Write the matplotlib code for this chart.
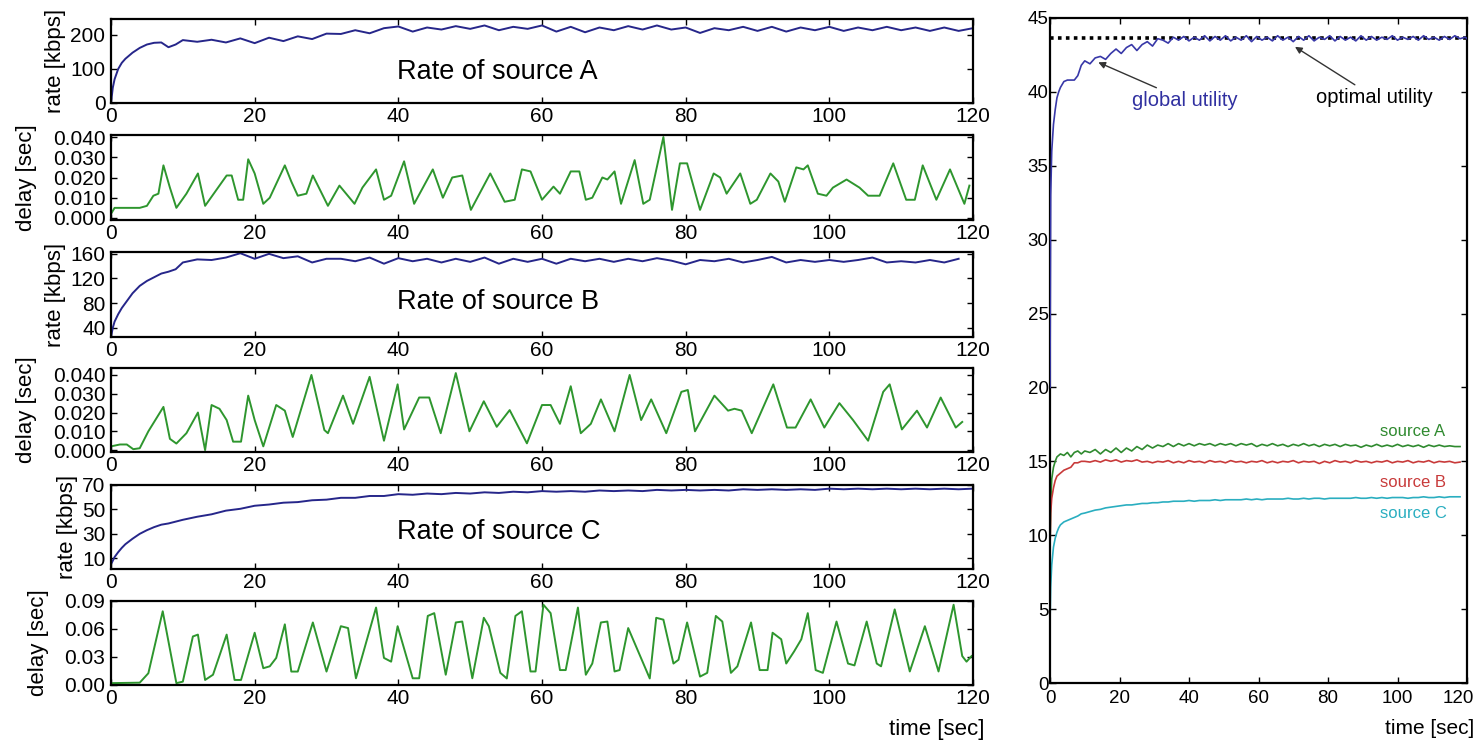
import matplotlib
matplotlib.use("Agg")
import matplotlib.pyplot as plt
import matplotlib.transforms as mtransforms
import numpy as np

plt.rcParams['font.family'] = ['Liberation Sans', 'DejaVu Sans']
NARROW = ['Liberation Sans Narrow', 'Liberation Sans', 'DejaVu Sans']

# ---------------- left column: rates (kbps) ----------------
t_rate_early = [0, 0.25, 0.5, 1, 1.5, 2, 3, 4, 5, 6, 7, 8, 9, 10]
t_rate_step = list(range(12, 121, 2))

rate_a = [0, 45, 70, 100, 118, 130, 148, 162, 172, 177, 178, 164, 172, 185,
          180, 186, 178, 190, 176, 192, 182, 196, 188, 204, 203,
          214, 205, 220, 225, 210, 222, 216, 226, 218, 228, 214,
          224, 218, 228, 210, 224, 208, 222, 214, 226, 216, 228,
          216, 222, 206, 220, 214, 224, 212, 224, 210, 222, 214,
          224, 212, 222, 214, 224, 214, 222, 212, 222, 212, 220]

rate_b = [25, 40, 50, 62, 72, 80, 96, 108, 116, 122, 128, 131, 135, 146,
          151, 150, 154, 161, 152, 160, 153, 156, 146, 152, 152,
          148, 154, 144, 153, 148, 152, 146, 152, 147, 154, 144,
          152, 147, 152, 144, 152, 148, 152, 147, 152, 148, 153,
          149, 143, 150, 148, 152, 146, 150, 155, 146, 150, 147,
          150, 147, 150, 154, 146, 148, 146, 150, 146, 152]

rate_c = [5, 8, 11, 15, 18.5, 21.5, 26, 30, 33, 35.5, 37.5, 38.5, 40, 41.5,
          44, 46, 49, 50.5, 53, 54, 55.5, 56, 57.5, 58, 59.5,
          59.5, 61, 61, 62.5, 62, 63, 62.5, 63.5, 63, 64, 63.5,
          64.5, 64, 65, 64.5, 65, 64.5, 65.5, 65, 65.5, 65, 66,
          65.5, 66, 65.5, 66, 65.5, 66.5, 66, 66.5, 66, 66.5, 66,
          67, 66.5, 67, 66.5, 67, 66.5, 67, 66.5, 67, 66.5, 67]

# ---------------- left column: delays (sec) ----------------
t_delay_a = [0, 0.5, 1, 2, 3, 4, 5, 5.9, 6.6, 7.3, 8.2, 9.1, 10.5, 12.1, 13.1,
             14.5, 16.1, 16.8, 17.7, 18.4, 19.1, 20, 21.2, 22.1, 24.2, 25.1,
             26, 27.2, 28.1, 30.2, 31.8, 33.9, 35, 36.9, 38, 39, 40.8, 42.2,
             44.8, 46.2, 47.5, 48.9, 50.1, 52.8, 54.8, 56.2, 57.2, 58.4, 60,
             61.6, 62.5, 64, 65.2, 66.1, 67, 68.4, 69.1, 70.1, 71, 72.9, 74.1,
             75, 76.9, 78.1, 79.2, 80.2, 82, 83.9, 84.8, 85.7, 87.6, 89, 89.9,
             91.8, 92.9, 93.8, 95.4, 96.4, 97, 98.4, 99.6, 100.5, 102.4, 104.2,
             105.4, 107, 108.9, 110.7, 111.9, 113, 114.9, 116.8, 118.8, 119.5]
delay_a = [0.002, 0.005, 0.005, 0.005, 0.005, 0.005, 0.006, 0.011, 0.012, 0.026,
           0.015, 0.005, 0.012, 0.022, 0.006, 0.013, 0.021, 0.021, 0.009, 0.009,
           0.029, 0.022, 0.007, 0.010, 0.026, 0.018, 0.011, 0.012, 0.021, 0.006,
           0.016, 0.007, 0.015, 0.024, 0.009, 0.011, 0.028, 0.007, 0.024, 0.010,
           0.020, 0.021, 0.004, 0.022, 0.008, 0.009, 0.024, 0.023, 0.009, 0.0155,
           0.012, 0.023, 0.023, 0.009, 0.010, 0.020, 0.019, 0.023, 0.007, 0.0286,
           0.007, 0.009, 0.040, 0.004, 0.027, 0.027, 0.004, 0.022, 0.020, 0.012,
           0.022, 0.007, 0.009, 0.022, 0.018, 0.008, 0.025, 0.024, 0.026, 0.012,
           0.011, 0.015, 0.019, 0.015, 0.011, 0.011, 0.027, 0.009, 0.009, 0.026,
           0.009, 0.024, 0.007, 0.016]

t_delay_b = [0, 1.25, 2.2, 3.1, 4, 5.2, 7.3, 8.2, 9.1, 10.5, 12.1, 13.1, 14, 15.1,
             16.1, 17, 18.1, 19.1, 20, 21.2, 23, 24.2, 25.3, 27.9, 29.7, 30.2,
             32.3, 33.7, 36, 38, 39.9, 40.8, 42.9, 44.3, 45.9, 48, 49.9, 51.9,
             53.7, 55.5, 57.9, 60, 61.2, 62.5, 64, 65.4, 66.8, 68.2, 70.1, 72.2,
             73.8, 75.2, 77.3, 79.4, 80.3, 81.3, 84, 85.9, 86.8, 87.8, 89.2,
             92.2, 94.1, 95.3, 97.4, 99.3, 101.4, 103.3, 105.4, 107.5, 108.4,
             110.1, 112.2, 113.6, 115.5, 117.6, 118.5]
delay_b = [0.002, 0.003, 0.003, 0.0005, 0.001, 0.010, 0.023, 0.006, 0.0035, 0.009,
           0.020, 0.000, 0.024, 0.022, 0.016, 0.0045, 0.0045, 0.029, 0.016, 0.002,
           0.024, 0.021, 0.007, 0.040, 0.0107, 0.009, 0.029, 0.014, 0.039, 0.005,
           0.035, 0.011, 0.028, 0.028, 0.009, 0.041, 0.010, 0.026, 0.0124, 0.0213,
           0.0036, 0.024, 0.024, 0.014, 0.034, 0.009, 0.014, 0.027, 0.010, 0.040,
           0.016, 0.027, 0.009, 0.031, 0.032, 0.010, 0.029, 0.021, 0.022, 0.021,
           0.009, 0.035, 0.012, 0.012, 0.027, 0.012, 0.025, 0.016, 0.005, 0.031,
           0.035, 0.011, 0.021, 0.012, 0.028, 0.012, 0.015]

t_delay_c = [0, 4, 5.2, 7.2, 9.1, 10, 11.4, 12.1, 13.1, 14.2, 16.1, 17.2, 18.1, 20,
             21.2, 22.1, 23, 24.2, 25.1, 26, 28.1, 30, 32, 33, 34.1, 36.9, 38, 39,
             39.9, 42, 42.9, 44.1, 45, 46.6, 48, 48.9, 50.3, 51.9, 52.6, 54.2,
             55.1, 56.3, 57.2, 58.4, 59.1, 60.2, 61.2, 62.5, 63.3, 65, 66.1, 67,
             68.2, 69.1, 70.1, 70.8, 72, 75, 75.9, 76.9, 78.3, 79, 80.2, 82, 83,
             84.2, 85.1, 86.3, 87.2, 89.1, 90.3, 91.4, 92.1, 93.3, 94, 95.1, 96.1,
             97, 98.1, 99.1, 101, 102.6, 103.5, 105.2, 106.6, 107.2, 109.1, 111.2,
             113.3, 115.2, 117.3, 118.5, 119.1, 119.8]
delay_c = [0.002, 0.0025, 0.0126, 0.079, 0.002, 0.0036, 0.052, 0.054, 0.0054, 0.011,
           0.054, 0.0054, 0.0054, 0.056, 0.018, 0.020, 0.029, 0.065, 0.0144, 0.0144,
           0.067, 0.0144, 0.063, 0.061, 0.0072, 0.083, 0.029, 0.025, 0.063, 0.0072,
           0.0072, 0.074, 0.077, 0.011, 0.067, 0.068, 0.0072, 0.072, 0.063, 0.013,
           0.007, 0.074, 0.079, 0.0145, 0.0145, 0.086, 0.077, 0.016, 0.016, 0.083,
           0.011, 0.023, 0.067, 0.068, 0.0145, 0.016, 0.061, 0.007, 0.072, 0.070,
           0.023, 0.027, 0.067, 0.009, 0.013, 0.074, 0.068, 0.013, 0.020, 0.067,
           0.016, 0.016, 0.056, 0.049, 0.023, 0.036, 0.049, 0.077, 0.016, 0.013,
           0.068, 0.023, 0.021, 0.068, 0.023, 0.020, 0.081, 0.0145, 0.063, 0.0145,
           0.086, 0.031, 0.025, 0.031]

# ---------------- right panel: utilities ----------------
t_util_early = [0, 0.2, 0.5, 1, 1.5, 2, 2.5, 3, 4, 5, 6, 7, 8, 9, 10]
t_util_tail = [119.5, 120]

global_utility = [20, 33, 36, 37.8, 38.8, 39.6, 40.0, 40.3, 40.7, 40.8, 40.8, 40.8, 41.1, 41.8, 42.1,
                  41.9, 42.3, 42.4, 42.2, 42.6, 42.9, 42.6, 43.0, 43.2, 42.8, 43.2, 43.4,
                  43.1, 43.6, 43.5, 43.3, 43.7, 43.5, 43.75, 43.45, 43.7, 43.5, 43.8, 43.45,
                  43.75, 43.5, 43.8, 43.45, 43.7, 43.5, 43.8, 43.4, 43.75, 43.5, 43.7, 43.45,
                  43.8, 43.5, 43.7, 43.4, 43.75, 43.5, 43.8, 43.45, 43.7, 43.55, 43.8, 43.45,
                  43.75, 43.5, 43.7, 43.45, 43.8, 43.5, 43.75, 43.5, 43.7, 43.55, 43.8, 43.5,
                  43.7, 43.55, 43.75, 43.5, 43.8, 43.55, 43.7, 43.5, 43.75, 43.55, 43.8, 43.6,
                  43.7, 43.6]
optimal_utility = 43.65

utility_a = [9, 12, 13.8, 14.6, 15.0, 15.3, 15.4, 15.5, 15.4, 15.6, 15.3, 15.6, 15.7, 15.5, 15.7,
             15.6, 15.8, 15.5, 15.8, 15.6, 15.9, 15.6, 15.9, 15.7, 16.0, 15.8, 16.1,
             15.9, 16.1, 16.0, 16.2, 16.0, 16.2, 16.05, 16.2, 16.05, 16.2, 16.1, 16.2,
             16.05, 16.2, 16.1, 16.2, 16.05, 16.2, 16.1, 16.2, 16.0, 16.15, 16.05, 16.2,
             16.05, 16.15, 16.0, 16.15, 16.05, 16.2, 16.05, 16.15, 16.0, 16.15, 16.05, 16.15,
             16.0, 16.15, 16.05, 16.1, 15.95, 16.1, 16.0, 16.15, 16.0, 16.1, 16.0, 16.15,
             16.0, 16.1, 16.0, 16.1, 15.95, 16.1, 16.0, 16.1, 16.0, 16.05, 16.0, 16.0]
utility_b = [9, 11.5, 12.5, 13.2, 13.7, 14.0, 14.1, 14.2, 14.4, 14.5, 14.6, 14.9, 14.9, 15.0, 15.0,
             14.95, 15.05, 14.95, 15.1, 15.0, 15.1, 14.95, 15.05, 15.0, 15.1, 14.95, 15.0,
             14.9, 15.0, 14.95, 15.05, 14.9, 15.0, 14.9, 15.05, 14.95, 15.0, 14.9, 15.05,
             14.95, 15.0, 14.9, 15.05, 14.95, 15.0, 14.9, 15.0, 14.95, 15.05, 14.9, 15.0,
             14.9, 15.0, 14.95, 15.05, 14.9, 15.0, 14.95, 15.0, 14.85, 15.0, 14.9, 15.05,
             14.95, 15.0, 14.9, 15.05, 14.95, 15.0, 14.9, 15.0, 14.95, 15.05, 14.9, 15.0,
             14.95, 15.05, 14.9, 15.0, 14.95, 15.05, 14.9, 15.0, 14.95, 15.0, 14.9, 14.95]
utility_c = [4, 6.5, 8, 9.2, 9.8, 10.2, 10.5, 10.7, 10.9, 11.0, 11.1, 11.2, 11.3, 11.45, 11.5,
             11.6, 11.7, 11.75, 11.85, 11.9, 11.95, 12.0, 12.05, 12.05, 12.1, 12.15, 12.15,
             12.2, 12.2, 12.25, 12.25, 12.3, 12.3, 12.3, 12.35, 12.3, 12.35, 12.35, 12.35,
             12.4, 12.35, 12.4, 12.4, 12.4, 12.4, 12.45, 12.4, 12.45, 12.4, 12.45, 12.45,
             12.45, 12.45, 12.5, 12.45, 12.45, 12.5, 12.45, 12.5, 12.5, 12.45, 12.5, 12.5,
             12.5, 12.5, 12.5, 12.55, 12.5, 12.5, 12.55, 12.5, 12.55, 12.5, 12.55, 12.55,
             12.55, 12.5, 12.55, 12.55, 12.6, 12.55, 12.55, 12.6, 12.55, 12.6, 12.6, 12.6]

x_ticks = [0, 20, 40, 60, 80, 100, 120]
rate_ticks = [[0, 100, 200], [40, 80, 120, 160], [10, 30, 50, 70]]
rate_lims = [(0, 247), (25, 163), (1.2, 70)]
delay_ticks = [[0, 0.01, 0.02, 0.03, 0.04], [0, 0.01, 0.02, 0.03, 0.04], [0, 0.03, 0.06, 0.09]]
delay_fmt = ['%.3f', '%.3f', '%.2f']
delay_lims = [(-0.001, 0.041), (-0.001, 0.0437), (0, 0.09)]
sources = ['A', 'B', 'C']
rate_text_y = [0.37, 0.415, 0.44]

RATE_COLOR = '#26268a'
DELAY_COLOR = '#2e962e'

W, H = 1478, 742
fig = plt.figure(figsize=(W / 100, H / 100), dpi=100)

# pixel boxes (top, bottom) of the six left panels
boxes = [(19, 103), (135, 220), (252, 337), (368, 452), (485, 569), (601, 685)]
left_px, right_px = 111, 973

t_rate = np.array(t_rate_early + t_rate_step, dtype=float)
rates = [rate_a, rate_b, rate_c]
delays = [(t_delay_a, delay_a), (t_delay_b, delay_b), (t_delay_c, delay_c)]


def style(ax, size=15, pad=4):
    ax.tick_params(direction='in', top=True, right=True, length=4, width=1,
                   labelsize=size, pad=pad)
    ax.tick_params(axis='x', pad=3)
    for sp in ax.spines.values():
        sp.set_linewidth(1.6)


for i in range(3):
    top, bot = boxes[2 * i]
    ax = fig.add_axes([left_px / W, 1 - bot / H, (right_px - left_px) / W, (bot - top) / H])
    r = rates[i]
    ax.plot(t_rate[:len(r)], r, color=RATE_COLOR, lw=1.4)
    ax.set_xlim(0, 120)
    ax.set_ylim(*rate_lims[i])
    ax.set_xticks(x_ticks)
    ax.set_yticks(rate_ticks[i])
    ax.set_ylabel('rate [kbps]', fontsize=16, labelpad=3)
    ax.text(0.332, rate_text_y[i], 'Rate of source ' + sources[i], transform=ax.transAxes,
            fontsize=19.5, va='center', ha='left')
    style(ax)

    top, bot = boxes[2 * i + 1]
    ax = fig.add_axes([left_px / W, 1 - bot / H, (right_px - left_px) / W, (bot - top) / H])
    td, d = delays[i]
    ax.plot(td, d, color=DELAY_COLOR, lw=1.4)
    ax.set_xlim(0, 120)
    ax.set_ylim(*delay_lims[i])
    ax.set_xticks(x_ticks)
    ax.set_yticks(delay_ticks[i])
    ax.set_yticklabels([delay_fmt[i] % v for v in delay_ticks[i]])
    ax.set_ylabel('delay [sec]', fontsize=16, labelpad=11)
    style(ax)

fig.text(985 / W, 1 - 729 / H, 'time [sec]', fontsize=16, ha='right', va='center')

# ---------------- right panel ----------------
t_util_step = list(np.arange(11.5, 118.1, 1.5))
t_src = np.array(t_util_early + t_util_step, dtype=float)
t_glob = np.array(t_util_early + t_util_step + t_util_tail, dtype=float)

ax = fig.add_axes([1050 / W, 1 - 683 / H, 417 / W, 665 / H])
ax.axhline(optimal_utility, color='black', ls=(0, (1, 1.2)), lw=2.6, zorder=3)
ax.plot(t_glob, global_utility, color='#3838a8', lw=1.2, zorder=4)
ax.plot(t_src, utility_a, color='#2f8a2f', lw=1.2)
ax.plot(t_src, utility_b, color='#c83a3a', lw=1.2)
ax.plot(t_src, utility_c, color='#2aaec0', lw=1.2)
ax.set_xlim(0, 120)
ax.set_ylim(0, 45)
ax.set_xticks(x_ticks)
ax.set_yticks([0, 5, 10, 15, 20, 25, 30, 35, 40, 45])
ax.tick_params(direction='in', top=True, right=True, length=4, width=1, pad=1)
ax.tick_params(axis='x', pad=5)
for lab in ax.get_xticklabels() + ax.get_yticklabels():
    lab.set_family(NARROW)
    lab.set_fontsize(13.5)
# keep the last x label inside the figure, as in the original
last = ax.xaxis.get_major_ticks()[-1].label1
last.set_transform(last.get_transform()
                   + mtransforms.ScaledTranslation(-6 / 72, 0, fig.dpi_scale_trans))
for sp in ax.spines.values():
    sp.set_linewidth(1.6)

arrow = dict(arrowstyle='-|>', color='#333333', lw=1.0, mutation_scale=10,
             shrinkA=0, shrinkB=0)
ax.annotate('global utility', xy=(13.9, 42.0), xytext=(23.5, 39.45), color='#3030a0',
            fontsize=14.5, family=NARROW, va='center', ha='left', arrowprops=arrow)
ax.annotate('optimal utility', xy=(70.5, 43.05), xytext=(76.5, 39.65), color='black',
            fontsize=14.5, family=NARROW, va='center', ha='left', arrowprops=arrow)
ax.text(95, 17.0, 'source A', color='#2f8a2f', fontsize=12, family=NARROW, va='center')
ax.text(95, 13.55, 'source B', color='#c83a3a', fontsize=12, family=NARROW, va='center')
ax.text(95, 11.5, 'source C', color='#2aaec0', fontsize=12, family=NARROW, va='center')

fig.text(1474 / W, 1 - 728 / H, 'time [sec]', fontsize=15, family=NARROW, ha='right', va='center')

fig.savefig('out.png', dpi=100)
